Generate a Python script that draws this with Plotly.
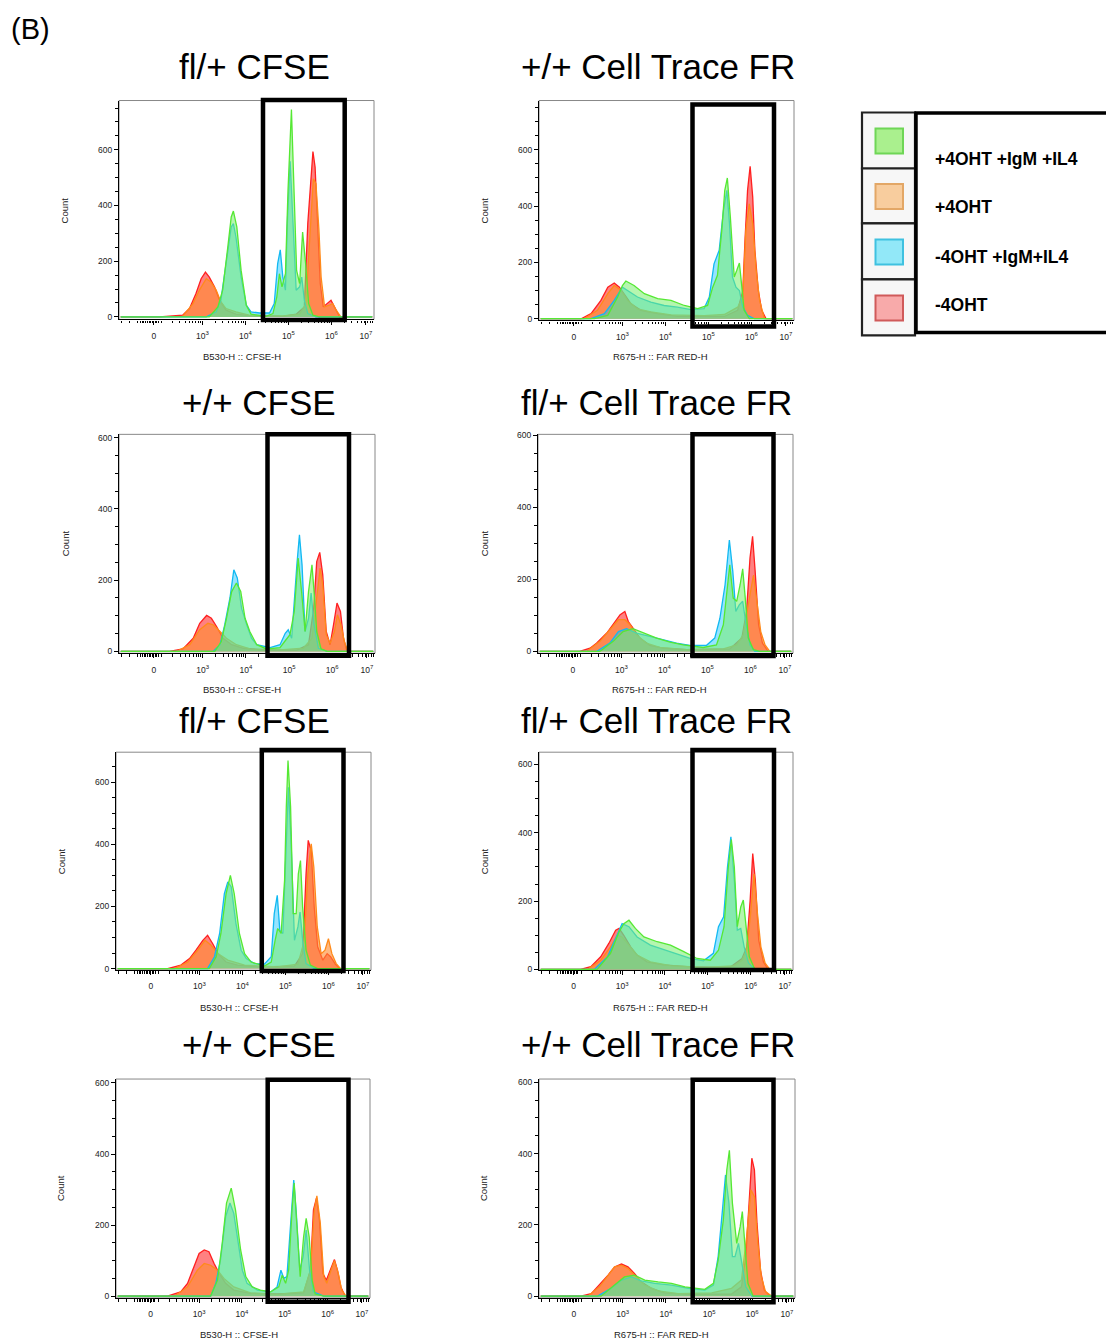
import math
import plotly.graph_objects as go

# the page adds an offset around the figure and the capture is slightly rescaled vertically;
# figure pixel coordinates are corrected for both so marks land at the reference screen positions
OFFX, OFFY, SY = 8, 11.5, 0.9945
W, H = 1114 - 8, 1336

# ---------------- data (x = log10 fluorescence, y = count) ----------------
SERIES = ["-4OHT", "+4OHT", "-4OHT +IgM+IL4", "+4OHT +IgM +IL4"]

# Panel 1 : fl/+ CFSE
P1_RED = [(1.1,0),(2.0,0),(2.54,6),(2.70,30),(2.85,84),(2.97,137),(3.07,161),(3.16,143),(3.28,108),(3.40,60),(3.55,24),(3.78,10),(4.25,2),(4.87,2),(5.18,10),(5.37,36),(5.45,335),(5.51,454),(5.57,594),(5.62,538),(5.68,311),(5.74,120),(5.81,36),(5.91,48),(5.99,60),(6.07,36),(6.19,0),(6.95,0)]
P1_ORANGE = [(1.1,0),(2.16,0),(2.54,2),(2.78,48),(2.93,96),(3.09,137),(3.20,125),(3.32,96),(3.43,54),(3.55,30),(3.78,18),(4.09,6),(4.87,4),(5.26,10),(5.41,48),(5.47,215),(5.53,394),(5.58,496),(5.64,478),(5.71,311),(5.76,143),(5.84,36),(5.95,42),(6.03,48),(6.11,24),(6.22,0),(6.95,0)]
P1_BLUE = [(1.1,0),(3.09,0),(3.32,18),(3.43,60),(3.55,191),(3.67,323),(3.72,335),(3.78,287),(3.90,143),(4.02,42),(4.13,18),(4.33,14),(4.56,14),(4.67,48),(4.75,191),(4.81,241),(4.87,143),(4.93,96),(4.98,359),(5.04,559),(5.10,359),(5.18,96),(5.26,108),(5.31,143),(5.37,60),(5.45,12),(5.64,0),(6.95,0)]
P1_GREEN = [(1.1,0),(3.16,0),(3.36,36),(3.47,96),(3.59,251),(3.67,359),(3.72,380),(3.80,323),(3.90,167),(4.02,42),(4.13,10),(4.48,2),(4.64,12),(4.73,72),(4.79,155),(4.85,108),(4.93,155),(4.99,454),(5.07,745),(5.12,514),(5.19,167),(5.26,120),(5.33,305),(5.40,191),(5.47,48),(5.57,6),(5.72,0),(6.95,0)]

# Panel 2 : +/+ Cell Trace FR
P2_RED = [(1.1,0),(2.04,0),(2.27,18),(2.50,65),(2.66,112),(2.81,127),(2.93,112),(3.04,89),(3.20,53),(3.43,30),(3.82,18),(4.28,8),(4.90,8),(5.37,8),(5.68,30),(5.80,100),(5.85,278),(5.91,456),(5.97,541),(6.03,432),(6.08,243),(6.16,100),(6.24,30),(6.34,0),(6.95,0)]
P2_ORANGE = [(1.1,0),(2.11,0),(2.42,30),(2.66,89),(2.81,118),(2.97,100),(3.12,65),(3.35,35),(3.66,24),(4.13,14),(4.90,11),(5.37,15),(5.68,41),(5.80,77),(5.87,314),(5.95,408),(6.03,337),(6.11,172),(6.19,65),(6.30,0),(6.95,0)]
P2_BLUE = [(1.1,0),(2.27,0),(2.58,18),(2.81,65),(3.00,112),(3.12,100),(3.35,77),(3.66,59),(3.97,47),(4.28,41),(4.59,32),(4.90,36),(5.02,77),(5.13,195),(5.25,243),(5.35,385),(5.43,456),(5.49,337),(5.56,148),(5.64,112),(5.72,100),(5.80,41),(5.91,12),(6.07,0),(6.95,0)]
P2_GREEN = [(1.1,0),(2.35,0),(2.66,12),(2.89,77),(3.00,118),(3.08,134),(3.27,118),(3.51,89),(3.82,71),(4.13,65),(4.44,47),(4.75,36),(4.98,47),(5.10,112),(5.21,154),(5.31,314),(5.38,456),(5.44,500),(5.51,361),(5.60,148),(5.66,172),(5.72,198),(5.77,124),(5.83,30),(5.95,0),(6.95,0)]

# Panel 3 : +/+ CFSE
P3_RED = [(1.1,0),(2.23,0),(2.54,7),(2.78,37),(2.93,79),(3.09,101),(3.20,93),(3.32,70),(3.47,37),(3.67,19),(3.94,9),(4.48,4),(5.18,4),(5.45,19),(5.57,121),(5.64,252),(5.71,278),(5.78,215),(5.86,56),(5.95,19),(6.03,75),(6.11,136),(6.19,112),(6.26,37),(6.34,0),(6.95,0)]
P3_ORANGE = [(1.1,0),(2.39,0),(2.70,19),(2.93,61),(3.12,79),(3.24,75),(3.40,56),(3.55,37),(3.78,19),(4.09,7),(4.87,5),(5.33,9),(5.53,37),(5.64,150),(5.72,234),(5.78,187),(5.86,47),(5.95,23),(6.05,56),(6.12,103),(6.20,75),(6.28,28),(6.36,0),(6.95,0)]
P3_BLUE = [(1.1,0),(3.24,0),(3.40,19),(3.51,75),(3.63,150),(3.72,229),(3.80,206),(3.90,121),(4.02,75),(4.13,37),(4.25,19),(4.56,11),(4.79,19),(4.91,51),(4.98,61),(5.06,37),(5.18,243),(5.24,327),(5.30,243),(5.37,56),(5.45,93),(5.51,164),(5.58,75),(5.68,9),(5.88,0),(6.95,0)]
P3_GREEN = [(1.1,0),(3.28,0),(3.43,28),(3.55,93),(3.67,168),(3.78,192),(3.88,168),(3.98,93),(4.09,56),(4.25,19),(4.48,7),(4.79,11),(4.91,30),(5.02,47),(5.12,112),(5.21,262),(5.29,168),(5.37,56),(5.45,168),(5.53,243),(5.59,150),(5.64,56),(5.74,7),(5.88,0),(6.95,0)]

# Panel 4 : fl/+ Cell Trace FR
P4_RED = [(1.1,0),(2.03,0),(2.27,9),(2.42,23),(2.66,51),(2.85,83),(2.97,102),(3.08,111),(3.16,83),(3.27,65),(3.43,37),(3.66,17),(3.97,9),(4.52,5),(5.52,7),(5.80,37),(5.91,111),(5.99,259),(6.05,319),(6.11,222),(6.19,74),(6.28,23),(6.41,0),(6.95,0)]
P4_ORANGE = [(1.1,0),(2.19,0),(2.50,28),(2.73,60),(2.93,88),(3.08,88),(3.20,74),(3.35,46),(3.58,23),(3.89,11),(4.52,5),(5.37,7),(5.68,18),(5.83,46),(5.97,148),(6.07,212),(6.14,148),(6.24,55),(6.34,18),(6.45,0),(6.95,0)]
P4_BLUE = [(1.1,0),(2.42,0),(2.73,23),(2.93,55),(3.12,63),(3.35,51),(3.66,42),(3.97,32),(4.28,23),(4.59,17),(4.98,17),(5.17,37),(5.29,92),(5.41,185),(5.51,309),(5.59,222),(5.66,111),(5.74,129),(5.82,139),(5.90,74),(5.99,18),(6.10,0),(6.95,0)]
P4_GREEN = [(1.1,0),(2.50,0),(2.81,28),(3.04,55),(3.27,63),(3.51,51),(3.82,37),(4.13,26),(4.44,18),(4.90,11),(5.21,18),(5.37,74),(5.46,185),(5.52,240),(5.60,148),(5.68,139),(5.76,185),(5.82,229),(5.88,148),(5.95,37),(6.07,5),(6.22,0),(6.95,0)]

# Panel 5 : fl/+ CFSE
P5_RED = [(1.1,0),(2.26,0),(2.57,11),(2.77,32),(2.92,59),(3.08,91),(3.19,107),(3.31,80),(3.43,48),(3.62,21),(3.89,11),(4.43,5),(5.21,8),(5.40,48),(5.48,305),(5.53,413),(5.60,380),(5.67,198),(5.75,70),(5.87,27),(5.97,48),(6.05,38),(6.16,14),(6.26,0),(6.95,0)]
P5_ORANGE = [(1.1,0),(2.42,0),(2.73,21),(2.96,59),(3.13,91),(3.27,75),(3.43,48),(3.66,27),(4.05,11),(4.82,5),(5.29,14),(5.44,91),(5.52,305),(5.60,402),(5.66,327),(5.74,134),(5.83,48),(5.92,59),(6.00,96),(6.08,48),(6.18,16),(6.28,0),(6.95,0)]
P5_BLUE = [(1.1,0),(3.19,0),(3.35,38),(3.47,113),(3.58,241),(3.66,279),(3.74,263),(3.85,145),(3.97,59),(4.09,32),(4.28,16),(4.51,14),(4.67,38),(4.74,177),(4.81,236),(4.87,123),(4.94,113),(5.02,413),(5.07,584),(5.13,413),(5.21,91),(5.29,134),(5.34,182),(5.40,91),(5.48,16),(5.67,0),(6.95,0)]
P5_GREEN = [(1.1,0),(3.23,0),(3.39,38),(3.50,113),(3.62,241),(3.72,300),(3.81,241),(3.93,113),(4.05,48),(4.20,21),(4.51,8),(4.67,21),(4.76,91),(4.82,129),(4.90,113),(4.98,284),(5.02,520),(5.06,670),(5.12,520),(5.18,177),(5.25,177),(5.30,305),(5.35,348),(5.40,198),(5.48,59),(5.58,11),(5.75,0),(6.95,0)]

# Panel 6 : fl/+ Cell Trace FR
P6_RED = [(1.1,0),(2.03,0),(2.27,8),(2.50,37),(2.69,76),(2.85,115),(2.93,120),(3.04,100),(3.20,66),(3.35,42),(3.58,22),(3.97,13),(4.52,8),(5.52,6),(5.80,32),(5.91,66),(5.99,203),(6.05,339),(6.11,261),(6.19,86),(6.30,22),(6.41,0),(6.95,0)]
P6_ORANGE = [(1.1,0),(2.19,0),(2.50,27),(2.73,66),(2.89,100),(3.00,95),(3.16,71),(3.35,42),(3.66,22),(4.13,11),(4.90,6),(5.60,10),(5.80,27),(5.91,56),(6.00,164),(6.08,280),(6.16,164),(6.24,66),(6.34,18),(6.45,0),(6.95,0)]
P6_BLUE = [(1.1,0),(2.35,0),(2.66,37),(2.89,105),(3.00,134),(3.16,125),(3.35,95),(3.66,71),(3.97,58),(4.28,47),(4.59,32),(4.90,25),(5.13,47),(5.25,125),(5.37,154),(5.46,300),(5.54,388),(5.62,261),(5.69,115),(5.77,120),(5.85,66),(5.95,19),(6.10,0),(6.95,0)]
P6_GREEN = [(1.1,0),(2.42,0),(2.73,47),(2.93,110),(3.04,134),(3.16,144),(3.31,120),(3.51,95),(3.82,81),(4.13,71),(4.44,52),(4.75,32),(5.06,27),(5.25,56),(5.38,125),(5.48,300),(5.55,380),(5.62,300),(5.69,125),(5.77,183),(5.83,203),(5.90,125),(5.97,37),(6.10,0),(6.95,0)]

# Panel 7 : +/+ CFSE
P7_RED = [(1.1,0),(2.26,0),(2.57,12),(2.73,36),(2.88,83),(3.00,120),(3.12,130),(3.23,125),(3.35,92),(3.47,64),(3.62,36),(3.81,17),(4.20,8),(4.82,6),(5.44,9),(5.60,73),(5.67,243),(5.74,276),(5.81,214),(5.89,64),(5.97,45),(6.06,73),(6.16,103),(6.23,73),(6.31,26),(6.41,0),(6.95,0)]
P7_ORANGE = [(1.1,0),(2.42,0),(2.73,26),(2.96,73),(3.12,92),(3.27,87),(3.43,73),(3.58,50),(3.81,26),(4.20,9),(4.82,5),(5.44,12),(5.60,73),(5.69,243),(5.75,282),(5.83,205),(5.91,55),(5.98,36),(6.08,73),(6.16,100),(6.25,64),(6.33,17),(6.43,0),(6.95,0)]
P7_BLUE = [(1.1,0),(3.27,0),(3.39,36),(3.50,102),(3.62,224),(3.72,262),(3.81,233),(3.91,149),(4.01,73),(4.12,36),(4.36,17),(4.67,12),(4.82,26),(4.91,73),(4.98,50),(5.05,55),(5.15,243),(5.21,327),(5.27,233),(5.35,73),(5.43,111),(5.50,186),(5.58,73),(5.67,12),(5.91,0),(6.95,0)]
P7_GREEN = [(1.1,0),(3.27,0),(3.43,45),(3.54,149),(3.64,262),(3.75,304),(3.85,243),(3.97,130),(4.09,55),(4.24,26),(4.43,17),(4.67,12),(4.86,26),(4.94,59),(5.02,36),(5.09,73),(5.17,243),(5.22,318),(5.29,186),(5.36,55),(5.44,167),(5.50,219),(5.57,167),(5.64,45),(5.71,6),(5.91,0),(6.95,0)]

# Panel 8 : +/+ Cell Trace FR
P8_RED = [(1.1,0),(2.03,0),(2.27,7),(2.46,31),(2.66,59),(2.81,82),(2.97,90),(3.12,82),(3.27,64),(3.43,40),(3.66,22),(3.97,9),(4.52,5),(5.52,6),(5.75,26),(5.85,111),(5.93,261),(5.99,387),(6.05,354),(6.11,204),(6.19,73),(6.28,17),(6.41,0),(6.95,0)]
P8_ORANGE = [(1.1,0),(2.19,0),(2.46,26),(2.66,59),(2.81,82),(2.97,87),(3.12,78),(3.27,59),(3.51,31),(3.82,15),(4.28,7),(5.06,9),(5.52,22),(5.75,45),(5.87,167),(5.97,298),(6.05,279),(6.13,148),(6.21,54),(6.31,12),(6.45,0),(6.95,0)]
P8_BLUE = [(1.1,0),(2.42,0),(2.73,22),(2.97,45),(3.20,54),(3.43,43),(3.74,36),(4.13,31),(4.52,22),(4.90,17),(5.10,31),(5.21,111),(5.31,242),(5.38,340),(5.46,261),(5.54,111),(5.60,111),(5.68,148),(5.76,92),(5.85,26),(5.99,0),(6.95,0)]
P8_GREEN = [(1.1,0),(2.50,0),(2.81,31),(3.04,54),(3.27,59),(3.51,45),(3.82,40),(4.13,36),(4.44,26),(4.90,19),(5.10,36),(5.21,101),(5.33,214),(5.41,354),(5.47,409),(5.54,261),(5.64,148),(5.72,195),(5.77,237),(5.83,148),(5.90,36),(6.02,0),(6.95,0)]

TITLES = ["fl/+ CFSE", "+/+ Cell Trace FR", "+/+ CFSE", "fl/+ Cell Trace FR",
          "fl/+ CFSE", "fl/+ Cell Trace FR", "+/+ CFSE", "+/+ Cell Trace FR"]
XLABELS = ["B530-H :: CFSE-H", "R675-H :: FAR RED-H"] * 4
Y_TICKS = [0, 200, 400, 600]
X_TICKVALS = [1.87, 3, 4, 5, 6, 6.8]
X_TICKTEXT = ["0", "10<sup>3</sup>", "10<sup>4</sup>", "10<sup>5</sup>", "10<sup>6</sup>", "10<sup>7</sup>"]
LEGEND_LABELS = ["+4OHT +IgM +IL4", "+4OHT", "-4OHT +IgM+IL4", "-4OHT"]

PANEL_DATA = [
    [P1_RED, P1_ORANGE, P1_BLUE, P1_GREEN],
    [P2_RED, P2_ORANGE, P2_BLUE, P2_GREEN],
    [P3_RED, P3_ORANGE, P3_BLUE, P3_GREEN],
    [P4_RED, P4_ORANGE, P4_BLUE, P4_GREEN],
    [P5_RED, P5_ORANGE, P5_BLUE, P5_GREEN],
    [P6_RED, P6_ORANGE, P6_BLUE, P6_GREEN],
    [P7_RED, P7_ORANGE, P7_BLUE, P7_GREEN],
    [P8_RED, P8_ORANGE, P8_BLUE, P8_GREEN],
]

# ---------------- layout geometry (screen pixels) ----------------
PLOT_BOX = [(119, 374, 100, 319), (539, 794, 100, 320), (119, 375, 434, 653), (538, 793, 434, 653),
            (116, 371, 752, 970), (539, 793, 752, 970), (116, 370, 1079, 1298), (539, 795, 1079, 1298)]
Y_RANGE = [(-9, 777), (-6, 775), (-5, 609), (-5, 602), (-5, 697), (-2, 636), (-5, 611), (-5, 609)]
GATE = [(263, 344.7, 99.5, 319.5), (692.5, 774, 104, 326), (267.5, 349, 434, 655.5), (692.5, 773.5, 434, 655.8),
        (261.8, 343.5, 749.8, 970.8), (692.5, 774, 749.8, 970), (267.7, 348.5, 1079.8, 1301.7), (692.7, 773.5, 1079.8, 1302.2)]
TITLE_POS = [(254, 66), (658, 66), (259, 402), (656, 402), (254, 720), (656, 720), (259, 1044), (658, 1044)]
XLAB_POS = [(242, 356.5), (660, 356.5), (242, 689.5), (659, 689.5), (239, 1007), (660, 1007), (239, 1334.5), (661, 1334.5)]
COUNT_POS = [(64, 210), (484, 210), (65, 543), (484, 543), (61, 861), (484, 861), (61, 1188), (484, 1188)]
X_RANGE = (1.06, 6.99)

LINE_COLORS = ["#ff2020", "#ff8a1a", "#12b9f2", "#55e833"]
FILL_COLORS = ["rgba(255,45,45,0.60)", "rgba(255,140,50,0.62)", "rgba(20,195,255,0.45)", "rgba(120,238,110,0.55)"]

FONT = "Arial, Liberation Sans, sans-serif"


def px(x):
    return (x - OFFX) / W


def py(y):
    return 1 - (y / SY - OFFY) / H


minor_x = []
for n in (2, 3, 4, 5, 6):
    for k in range(2, 10):
        v = n + math.log10(k)
        if 2.25 < v < 6.98:
            minor_x.append(v)
minor_x += [1.12, 1.3, 1.5, 1.56, 1.6, 1.64, 1.68, 1.72, 1.76, 1.8, 1.83, 1.9, 1.93, 1.97, 2.05]

fig = go.Figure()
layout = dict(width=W, height=H, margin=dict(l=0, r=0, t=0, b=0),
              paper_bgcolor="white", plot_bgcolor="white", showlegend=False)
shapes, annotations = [], []

for i, series in enumerate(PANEL_DATA):
    k = i + 1
    xa, ya = ("x" if k == 1 else f"x{k}"), ("y" if k == 1 else f"y{k}")
    for j, pts in enumerate(series):
        fig.add_trace(go.Scatter(
            x=[p[0] for p in pts], y=[p[1] for p in pts], mode="lines",
            line=dict(color=LINE_COLORS[j], width=1.3), fill="tozeroy",
            fillcolor=FILL_COLORS[j], name=SERIES[j], xaxis=xa, yaxis=ya, hoverinfo="skip"))
    x0, x1, y0, y1 = PLOT_BOX[i]
    layout[f"xaxis{k}"] = dict(
        domain=[px(x0), px(x1)], anchor=ya, range=list(X_RANGE), showgrid=False, zeroline=False,
        showline=True, linecolor="black", linewidth=1.2, ticks="outside", ticklen=4, tickwidth=1,
        tickcolor="black", tickvals=X_TICKVALS, ticktext=X_TICKTEXT, ticklabelstandoff=4,
        tickfont=dict(family=FONT, size=8.5, color="#222"),
        minor=dict(tickvals=minor_x, ticklen=2.5, ticks="outside", tickcolor="black", tickwidth=1))
    layout[f"yaxis{k}"] = dict(
        domain=[py(y1), py(y0)], anchor=xa, range=list(Y_RANGE[i]), showgrid=False, zeroline=False,
        showline=True, linecolor="black", linewidth=1.2, ticks="outside", ticklen=4, tickwidth=1,
        tickcolor="black", tickvals=Y_TICKS, tickfont=dict(family=FONT, size=8.5, color="#222"),
        minor=dict(dtick=50, tick0=0, ticklen=2.5, ticks="outside", tickcolor="black", tickwidth=1))
    shapes.append(dict(type="rect", xref="paper", yref="paper", x0=px(x0), x1=px(x1), y0=py(y1), y1=py(y0),
                       line=dict(color="#888", width=1), layer="below"))
    g = GATE[i]
    shapes.append(dict(type="rect", xref="paper", yref="paper", x0=px(g[0]), x1=px(g[1]), y0=py(g[3]), y1=py(g[2]),
                       line=dict(color="black", width=4.5), layer="above"))
    tx, ty = TITLE_POS[i]
    annotations.append(dict(text=TITLES[i], x=px(tx), y=py(ty), xref="paper", yref="paper", showarrow=False,
                            xanchor="center", yanchor="middle", font=dict(family=FONT, size=35, color="black")))
    lx, ly = XLAB_POS[i]
    annotations.append(dict(text=XLABELS[i], x=px(lx), y=py(ly), xref="paper", yref="paper", showarrow=False,
                            xanchor="center", yanchor="middle", font=dict(family=FONT, size=9.5, color="#222")))
    cx, cy = COUNT_POS[i]
    annotations.append(dict(text="Count", x=px(cx), y=py(cy), xref="paper", yref="paper", showarrow=False,
                            textangle=-90, xanchor="center", yanchor="middle",
                            font=dict(family=FONT, size=9.5, color="#222")))

annotations.append(dict(text="(B)", x=px(30), y=1, xref="paper", yref="paper", showarrow=False,
                        xanchor="center", yanchor="top", borderpad=0,
                        font=dict(family=FONT, size=29, color="black")))

# legend box
CELL_Y = [(112, 168), (168, 223), (223, 279), (279, 335)]
SW_FILL = ["#aaf08e", "#f8cd9e", "#92e8f8", "#f8aaaa"]
SW_LINE = ["#6fd656", "#e3a766", "#3fc1e0", "#d05a5a"]
TEXT_Y = [159, 207, 257, 305]
for r, (c0, c1) in enumerate(CELL_Y):
    shapes.append(dict(type="rect", xref="paper", yref="paper", x0=px(862), x1=px(915), y0=py(c1), y1=py(c0),
                       line=dict(color="#222", width=2.2), fillcolor="#f7f7f7"))
    mid = (c0 + c1) / 2
    shapes.append(dict(type="rect", xref="paper", yref="paper", x0=px(875.5), x1=px(903), y0=py(mid + 13), y1=py(mid - 12),
                       line=dict(color=SW_LINE[r], width=2), fillcolor=SW_FILL[r]))
    annotations.append(dict(text=f"<b>{LEGEND_LABELS[r]}</b>", x=px(933), y=py(TEXT_Y[r]), xref="paper", yref="paper",
                            showarrow=False, xanchor="left", yanchor="middle",
                            font=dict(family=FONT, size=17.5, color="black")))
shapes.append(dict(type="rect", xref="paper", yref="paper", x0=px(916), x1=px(1125), y0=py(332), y1=py(112.5),
                   line=dict(color="black", width=3.5)))

layout["shapes"] = shapes
layout["annotations"] = annotations
fig.update_layout(**layout)
fig.write_html("out.html")
